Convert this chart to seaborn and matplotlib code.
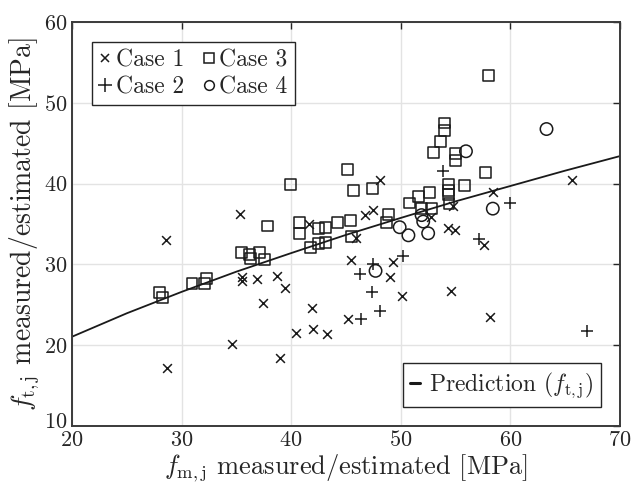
import numpy as np
import pandas as pd
import matplotlib
matplotlib.use("Agg")
import matplotlib.pyplot as plt
import matplotlib.transforms as mtrans
import seaborn as sns
from matplotlib.lines import Line2D

# Case 1 (x)
c1_fm = [28.6, 28.7, 34.6, 35.3, 35.5, 35.5, 36.85, 37.4, 38.7, 39.4, 39.0, 40.45,
         41.65, 41.9, 42.0, 43.3, 45.2, 45.5, 45.9, 46.7, 47.5, 48.1, 49.3, 49.0,
         50.1, 52.8, 54.3, 54.95, 54.8, 54.6, 57.6, 58.1, 58.4, 65.65]
c1_ft = [33.0, 17.2, 20.2, 36.2, 28.4, 27.9, 28.15, 25.2, 28.55, 27.05, 18.45, 21.5,
         35.0, 24.6, 22.0, 21.35, 23.3, 30.6, 33.3, 36.1, 36.7, 40.45, 30.35, 28.5,
         26.1, 35.9, 34.45, 34.2, 37.2, 26.7, 32.4, 23.5, 39.0, 40.5]

# Case 2 (+)
c2_fm = [47.5, 46.3, 50.2, 47.4, 48.1, 46.4, 53.9, 57.1, 60.0, 67.0]
c2_ft = [30.0, 28.8, 31.1, 26.6, 24.2, 23.3, 41.6, 33.1, 37.6, 21.8]

# Case 3 (squares)
c3_fm = [28.0, 28.3, 30.95, 32.1, 32.3, 35.5, 36.2, 37.15, 37.6, 36.25, 37.85, 39.95,
         40.8, 40.8, 41.8, 42.5, 43.1, 42.5, 43.1, 44.2, 45.4, 45.5, 45.15, 45.7,
         47.4, 48.85, 48.7, 50.8, 51.6, 52.6, 51.9, 52.8, 53.0, 53.6, 54.0, 54.0,
         55.0, 55.0, 54.35, 54.35, 54.35, 54.4, 55.8, 57.7, 58.0]
c3_ft = [26.5, 25.9, 27.66, 27.66, 28.2, 31.5, 31.2, 31.5, 30.6, 30.75, 34.75, 39.9,
         35.2, 33.85, 32.1, 32.6, 32.7, 34.4, 34.6, 35.2, 35.4, 33.5, 41.8, 39.2,
         39.4, 36.2, 35.2, 37.6, 38.4, 38.9, 36.9, 36.9, 43.8, 45.2, 46.6, 47.5,
         43.75, 42.9, 39.95, 39.2, 38.6, 37.5, 39.8, 41.35, 53.4]

# Case 4 (circles)
c4_fm = [47.7, 49.9, 50.7, 51.9, 52.05, 52.5, 55.95, 58.4, 63.3]
c4_ft = [29.2, 34.6, 33.6, 36.1, 35.3, 33.85, 44.0, 36.9, 46.75]

# Prediction curve
pred_fm = [20, 25, 30, 35, 40, 45, 50, 55, 60, 65, 70]
pred_ft = [21.05, 23.95, 26.6, 29.1, 31.4, 33.65, 35.75, 37.8, 39.7, 41.6, 43.4]

sns.set_theme(style="white")
plt.rcParams["font.family"] = ["cmr10", "DejaVu Serif"]
plt.rcParams["mathtext.fontset"] = "cm"
plt.rcParams["axes.formatter.use_mathtext"] = True
plt.rcParams["axes.unicode_minus"] = False

fig = plt.figure(figsize=(6.32, 4.88), dpi=100)
ax = fig.add_axes([0.1139, 0.127, 0.867, 0.828])

ax.grid(True, color="#e3e3e3", linewidth=1.0)
ax.set_axisbelow(True)

sns.lineplot(x=pred_fm, y=pred_ft, ax=ax, color="#1a1a1a", linewidth=1.3)

sns.scatterplot(x=c1_fm, y=c1_ft, ax=ax, marker="x", color="#1a1a1a", s=40, linewidth=1.1)
sns.scatterplot(x=c2_fm, y=c2_ft, ax=ax, marker="+", color="#1a1a1a", s=70, linewidth=1.1)
sns.scatterplot(x=c3_fm, y=c3_ft, ax=ax, marker="s", facecolor="none",
                edgecolor="#1a1a1a", s=62, linewidth=1.1)
sns.scatterplot(x=c4_fm, y=c4_ft, ax=ax, marker="o", facecolor="none",
                edgecolor="#1a1a1a", s=80, linewidth=1.1)

ax.set_xlim(20, 70)
ax.set_ylim(10, 60)
ax.set_xticks([20, 30, 40, 50, 60, 70])
ax.set_yticks([10, 20, 30, 40, 50, 60])
ax.tick_params(direction="in", length=5, width=1.0, top=True, right=True,
               labelsize=16, colors="#262626")
ax.tick_params(axis="x", pad=3)
ax.tick_params(axis="y", pad=3)
for sp in ax.spines.values():
    sp.set_color("#3a3a3a")
    sp.set_linewidth(1.4)

# nudge the bottom y label up a little so it does not sit on the "20"
fig.canvas.draw()
lab10 = ax.get_yticklabels()[0]
lab10.set_transform(lab10.get_transform() +
                    mtrans.ScaledTranslation(0, 4 / 72, fig.dpi_scale_trans))

ax.set_xlabel(r"$f_{\mathrm{m,j}}$ measured/estimated [MPa]", fontsize=19, labelpad=2,
              color="#262626")
ax.set_ylabel(r"$f_{\mathrm{t,j}}$ measured/estimated [MPa]", fontsize=20, labelpad=2,
              color="#262626")

mk = dict(color="#1a1a1a", linestyle="none", markerfacecolor="none", markeredgewidth=1.1)
handles = [Line2D([], [], marker="x", markersize=6, **mk),
           Line2D([], [], marker="+", markersize=10, **mk),
           Line2D([], [], marker="s", markersize=7, **mk),
           Line2D([], [], marker="o", markersize=7, **mk)]
labels = ["Case 1", "Case 2", "Case 3", "Case 4"]
leg1 = ax.legend(handles, labels, loc="upper left", ncol=2, fontsize=17,
                 handlelength=0.5, handletextpad=0.2, columnspacing=0.8,
                 labelspacing=0.2, borderpad=0.3, borderaxespad=0, fancybox=False,
                 edgecolor="#262626", framealpha=1, bbox_to_anchor=(0.0365, 0.95))
leg1.get_frame().set_linewidth(1.0)
ax.add_artist(leg1)

h2 = [Line2D([], [], color="#1a1a1a", linewidth=2.2)]
leg2 = ax.legend(h2, [r"Prediction ($f_{\mathrm{t,j}}$)"], loc="lower right", fontsize=17,
                 handlelength=0.4, handletextpad=0.4, borderpad=0.3, borderaxespad=0,
                 fancybox=False, edgecolor="#262626", framealpha=1,
                 bbox_to_anchor=(0.965, 0.047))
leg2.get_frame().set_linewidth(1.0)

fig.savefig("out.png", dpi=100)
